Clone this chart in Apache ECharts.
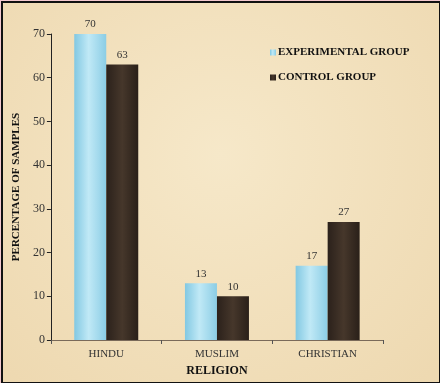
<!DOCTYPE html>
<html><head><meta charset="utf-8">
<script src="https://cdn.jsdelivr.net/npm/echarts@6/dist/echarts.min.js"></script>
<style>
html,body{margin:0;padding:0;background:#f4c9cf;}
#wrap{position:absolute;left:1px;top:1px;width:436px;height:379px;border:2px solid #111;background:#f3e4c4;}
#c{width:436px;height:379px;}
</style></head>
<body><div id="wrap"><div id="c"></div></div>
<script>
const categories = ['HINDU', 'MUSLIM', 'CHRISTIAN'];
const experimental = [70, 13, 17];
const control = [63, 10, 27];
const yTicks = [0, 10, 20, 30, 40, 50, 60, 70];

const chart = echarts.init(document.getElementById('c'));
const font = '"Liberation Serif", "Times New Roman", serif';
const blue = new echarts.graphic.LinearGradient(0,0,1,0,[
  {offset:0,color:'#82c8e2'},{offset:0.45,color:'#c0e9f6'},{offset:1,color:'#8bcde5'}]);
const brown = new echarts.graphic.LinearGradient(0,0,1,0,[
  {offset:0,color:'#2b211b'},{offset:0.5,color:'#46372b'},{offset:1,color:'#2a2019'}]);
chart.setOption({
  backgroundColor: new echarts.graphic.RadialGradient(0.5,0.4,0.8,[
    {offset:0,color:'#f6e8c9'},{offset:1,color:'#eed9b1'}]),
  textStyle:{fontFamily:font},
  animation:false,
  grid:{left:42, right:56, top:31, bottom:41},
  legend:{
    orient:'vertical', left:262, top:39, itemGap:14,
    itemWidth:6, itemHeight:6, icon:'rect',
    textStyle:{fontFamily:font, fontWeight:'bold', fontSize:11, color:'#111', padding:[0,0,0,-3]},
    data:['EXPERIMENTAL GROUP','CONTROL GROUP']
  },
  xAxis:{
    type:'category', data:categories,
    name:'RELIGION', nameLocation:'middle', nameGap:25,
    nameTextStyle:{fontFamily:font, fontWeight:'bold', fontSize:12, color:'#111'},
    axisLine:{lineStyle:{color:'#7a6a5a', width:1}},
    axisTick:{show:true, length:4, lineStyle:{color:'#555'}},
    axisLabel:{fontFamily:font, fontSize:11, color:'#333', margin:9}
  },
  yAxis:{
    type:'value', min:0, max:70, interval:10,
    name:'PERCENTAGE OF SAMPLES', nameLocation:'middle', nameGap:27,
    nameTextStyle:{fontFamily:font, fontWeight:'bold', fontSize:11, color:'#111'},
    axisLine:{show:true, lineStyle:{color:'#222', width:1}},
    axisTick:{show:true, length:4, lineStyle:{color:'#222'}},
    axisLabel:{fontFamily:font, fontSize:12, color:'#333', margin:6,
      formatter:v=>yTicks.includes(v)?String(v):''},
    splitLine:{show:false}
  },
  series:[
    {name:'EXPERIMENTAL GROUP', type:'bar', data:experimental, barWidth:32, barGap:'0%',
     itemStyle:{color:blue},
     label:{show:true, position:'top', distance:4, fontFamily:font, fontSize:11, color:'#333'}},
    {name:'CONTROL GROUP', type:'bar', data:control, barWidth:32,
     itemStyle:{color:brown},
     label:{show:true, position:'top', distance:4, fontFamily:font, fontSize:11, color:'#333'}}
  ]
});
</script></body></html>
